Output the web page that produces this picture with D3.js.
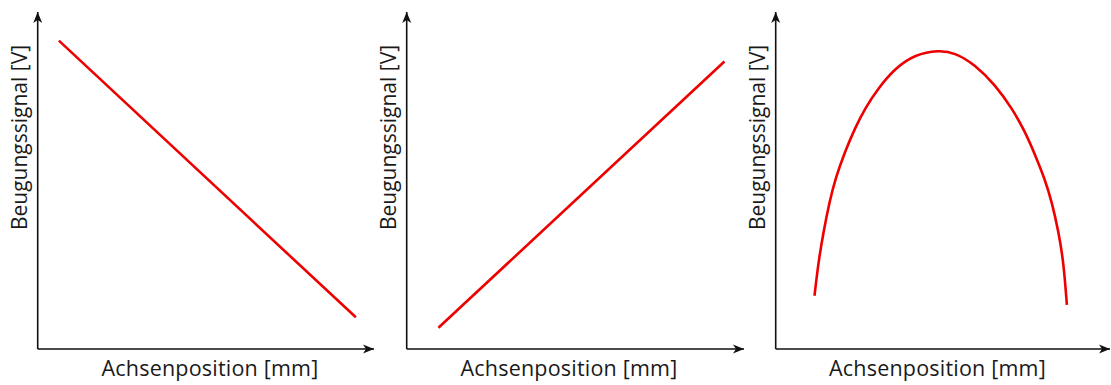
<!DOCTYPE html>
<html>
<head>
<meta charset="utf-8">
<script src="https://cdn.jsdelivr.net/npm/d3@7/dist/d3.min.js"></script>
<style>
  html, body { margin: 0; padding: 0; background: #fff; }
  svg { display: block; }
  text { font-family: "Open Sans", "Noto Sans", sans-serif; fill: #1a1a1a; }
</style>
</head>
<body>
<svg id="chart" width="1111" height="385"></svg>
<script>
// Axis titles
const xTitle = "Achsenposition [mm]";
const yTitle = "Beugungssignal [V]";

// Panel 1: signal falling linearly with position (arbitrary units 0–10)
const fallX = [0.63, 9.46];
const fallY = [9.15, 0.94];

// Panel 2: signal rising linearly with position
const riseX = [0.94, 9.42];
const riseY = [0.63, 8.53];

// Panel 3: signal peaking in the middle of the travel
const peakX = [1.16, 1.28, 1.43, 1.61, 1.79, 2.07, 2.37, 2.67, 3.07, 3.57, 4.17, 4.87,
               5.37, 5.97, 6.57, 7.07, 7.46, 7.76, 8.04, 8.26, 8.46, 8.61, 8.71];
const peakY = [1.58, 2.59, 3.48, 4.37, 5.07, 5.85, 6.55, 7.14, 7.74, 8.33, 8.74, 8.87,
               8.79, 8.43, 7.83, 7.14, 6.45, 5.76, 5.07, 4.37, 3.48, 2.59, 1.31];

// Panel frames in pixels: origin x, arrow tip x, and x-title centre
const panels = [
  { xs: fallX, ys: fallY, x0: 37.7, x1: 374, titleCx: 210 },
  { xs: riseX, ys: riseY, x0: 406.7, x1: 744, titleCx: 569 },
  { xs: peakX, ys: peakY, x0: 775.7, x1: 1110, titleCx: 937.5 }
];
const yBase = 349, yTop = 12;

const svg = d3.select("#chart");

// Arrowhead used on both axes
const defs = svg.append("defs");
defs.append("marker")
  .attr("id", "arrow")
  .attr("viewBox", "-12 -6 14 12")
  .attr("refX", 0).attr("refY", 0)
  .attr("markerWidth", 14).attr("markerHeight", 12)
  .attr("markerUnits", "userSpaceOnUse")
  .attr("orient", "auto")
  .append("path")
  .attr("d", "M0,0 L-11,-4.5 L-8,0 L-11,4.5 Z")
  .attr("fill", "#111");

panels.forEach(p => {
  const x = d3.scaleLinear().domain([0, 10]).range([p.x0, p.x1]);
  const y = d3.scaleLinear().domain([0, 10]).range([yBase, yTop]);
  const g = svg.append("g");

  // axes with arrows
  g.append("line")
    .attr("x1", x(0)).attr("y1", y(0)).attr("x2", x(10)).attr("y2", y(0))
    .attr("stroke", "#111").attr("stroke-width", 1.6)
    .attr("marker-end", "url(#arrow)");
  g.append("line")
    .attr("x1", x(0)).attr("y1", y(0)).attr("x2", x(0)).attr("y2", y(10))
    .attr("stroke", "#111").attr("stroke-width", 1.6)
    .attr("marker-end", "url(#arrow)");

  // signal curve, smoothed with a B-spline through the sampled points
  const pts = p.xs.map((v, i) => [v, p.ys[i]]);
  const line = d3.line()
    .x(d => x(d[0])).y(d => y(d[1]))
    .curve(pts.length > 2 ? d3.curveBasis : d3.curveLinear);
  g.append("path")
    .attr("d", line(pts))
    .attr("fill", "none")
    .attr("stroke", "#ee0000")
    .attr("stroke-width", 2.6);

  // axis titles
  g.append("text")
    .attr("x", p.titleCx).attr("y", 376)
    .attr("text-anchor", "middle")
    .attr("font-size", 21.5)
    .attr("letter-spacing", 0.2)
    .text(xTitle);
  g.append("text")
    .attr("transform", `translate(${p.x0 - 11},137.5) rotate(-90)`)
    .attr("text-anchor", "middle")
    .attr("font-size", 21)
    .text(yTitle);
});
</script>
</body>
</html>
